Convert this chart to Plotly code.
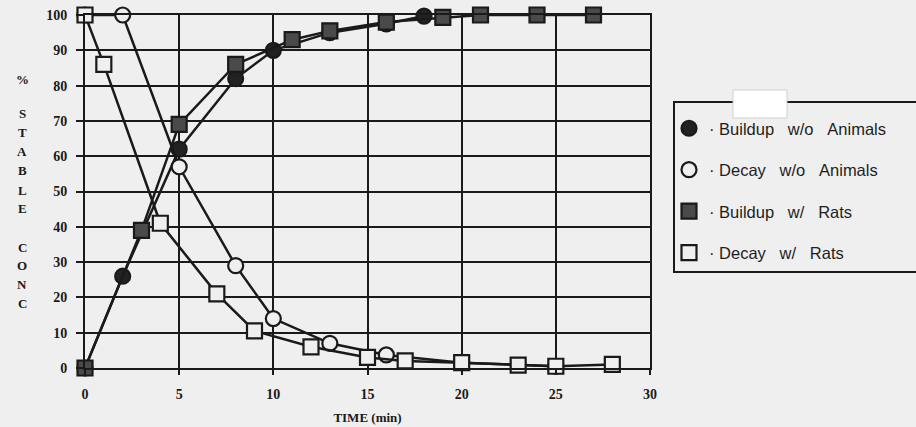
import plotly.graph_objects as go

# ---- data ----
t_build_wo = [0, 2, 5, 8, 10, 13, 16, 18]
y_build_wo = [0, 26, 62, 82, 90, 95, 97.5, 99.7]

t_decay_wo = [0, 2, 5, 8, 10, 13, 16, 20, 25]
y_decay_wo = [100, 100, 57, 29, 14, 7, 3.7, 1.5, 0.5]

t_build_rat = [0, 3, 5, 8, 11, 13, 16, 19, 21, 24, 27]
y_build_rat = [0, 39, 69, 86, 93, 95.5, 98, 99.3, 100, 100, 100]

t_decay_rat = [0, 1, 4, 7, 9, 12, 15, 17, 20, 23, 25, 28]
y_decay_rat = [100, 86, 41, 21, 10.5, 6, 3, 2, 1.5, 0.8, 0.5, 1]

names = ["Buildup   w/o   Animals", "Decay   w/o   Animals", "Buildup   w/   Rats", "Decay   w/   Rats"]
x_ticks = [0, 5, 10, 15, 20, 25, 30]
y_ticks = [0, 10, 20, 30, 40, 50, 60, 70, 80, 90, 100]
ylabel_letters = ["%", "S", "T", "A", "B", "L", "E", "C", "O", "N", "C"]

BG = "#efefef"
INK = "#1a1a1a"

series = [
    (t_build_wo, y_build_wo, names[0], "circle", "#222222"),
    (t_decay_wo, y_decay_wo, names[1], "circle", BG),
    (t_build_rat, y_build_rat, names[2], "square", "#4a4a4a"),
    (t_decay_rat, y_decay_rat, names[3], "square", BG),
]

fig = go.Figure()
for i, (tx, ty, nm, sym, fill) in enumerate(series):
    fig.add_trace(go.Scatter(
        x=tx, y=ty, mode="lines", showlegend=False, cliponaxis=False,
        line=dict(color=INK, width=2.5), hoverinfo="skip"))
    fig.add_trace(go.Scatter(
        x=tx, y=ty, mode="markers", name="\u00b7 " + nm.replace(" ", "\u00a0"),
        legendgroup="g%d" % i, cliponaxis=False,
        marker=dict(symbol=sym, size=15, color=fill,
                    line=dict(color=INK, width=2.2))))

# plot area in pixels: left 85, right 650, top 15, bottom 368
W, H = 916, 427
L, R, T, B = 85, 650, 15, 368
def px(xp):
    return (xp - L) / (R - L)
def py(yp):
    return (B - yp) / (B - T)

fig.update_layout(
    width=W, height=H,
    margin=dict(l=L, r=W - R, t=T, b=H - B, autoexpand=False),
    paper_bgcolor=BG, plot_bgcolor=BG,
    font=dict(family="Liberation Serif", color=INK),
    showlegend=True,
    legend=dict(x=px(669), y=py(111), xanchor="left", yanchor="top",
                bgcolor="rgba(0,0,0,0)", borderwidth=0,
                font=dict(family="Liberation Sans", size=16.5, color="#1e1e1e"),
                tracegroupgap=17, itemsizing="trace"),
)

fig.update_xaxes(range=[0, 30], tickvals=x_ticks, ticktext=[str(v) for v in x_ticks],
                 showgrid=True, gridcolor=INK, gridwidth=2,
                 zeroline=False, showline=True, linecolor=INK, linewidth=2, mirror=True,
                 ticks="outside", ticklen=5, tickwidth=2, tickcolor=INK,
                 ticklabelstandoff=7,
                 tickfont=dict(family="Liberation Serif", size=14, weight="bold"),
                 title=dict(text="TIME (min)", standoff=12,
                            font=dict(family="Liberation Serif", size=13, weight="bold")))
fig.update_yaxes(range=[0, 100], tickvals=y_ticks, ticktext=[str(v) for v in y_ticks],
                 showgrid=True, gridcolor=INK, gridwidth=2,
                 zeroline=False, showline=True, linecolor=INK, linewidth=2, mirror=True,
                 ticks="outside", ticklen=7, tickwidth=2, tickcolor=INK,
                 ticklabelstandoff=6,
                 tickfont=dict(family="Liberation Serif", size=14, weight="bold"))

# vertical y-axis label, one letter per line
letter_y = [79, 114, 132, 151, 170, 190, 209, 247, 265, 284, 303]
for ch, yy in zip(ylabel_letters, letter_y):
    fig.add_annotation(text=ch, x=px(22), y=py(yy), xref="paper", yref="paper",
                       showarrow=False, xanchor="center", yanchor="middle",
                       font=dict(family="Liberation Serif", size=13, weight="bold", color=INK))

# legend frame and the white scan patch over its top edge
fig.add_shape(type="rect", xref="paper", yref="paper",
              x0=px(674), x1=px(925), y0=py(272), y1=py(102),
              line=dict(color=INK, width=2), fillcolor="rgba(0,0,0,0)", layer="above")
fig.add_shape(type="rect", xref="paper", yref="paper",
              x0=px(733), x1=px(787), y0=py(118), y1=py(90),
              line=dict(color="#cfcfcf", width=1), fillcolor="#ffffff", layer="above")

fig.write_html("out.html", config={"displayModeBar": False},
               post_script="document.body.style.margin='0px';")
